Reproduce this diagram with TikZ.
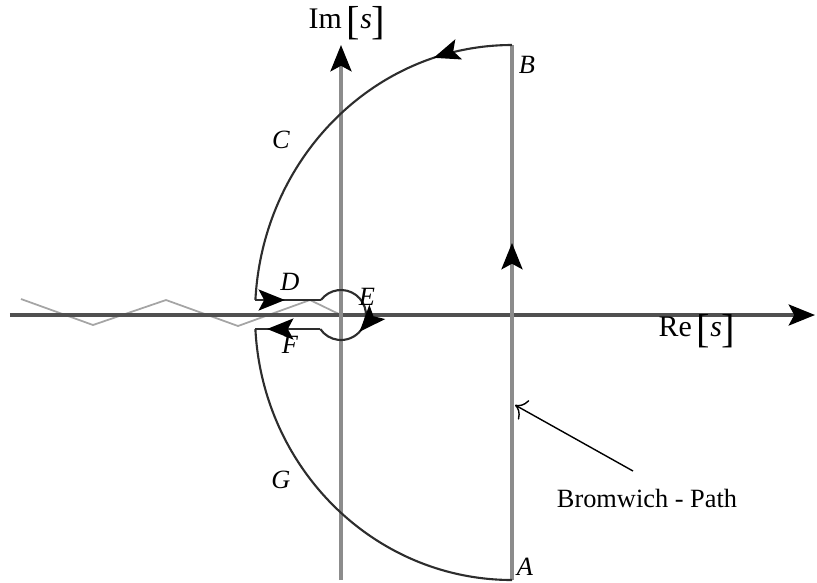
\documentclass[tikz,border=0pt]{standalone}
\usepackage{fontspec}
\setmainfont{Liberation Serif}
\usetikzlibrary{arrows.meta,decorations.markings}
\definecolor{axisgray}{RGB}{80,80,80}
\definecolor{pathgray}{RGB}{140,140,140}
\definecolor{cutgray}{RGB}{165,165,165}
\definecolor{arcgray}{RGB}{45,45,45}
\newcommand{\tallbr}[1]{\raisebox{-0.45ex}{\fontsize{11.5}{12}\selectfont #1}}

\begin{document}
\begin{tikzpicture}[line width=0.6pt,
        headtip/.tip={Stealth[length=7.5pt, width=6pt, inset=1.6pt, color=black]},
        midarrow/.style={postaction=decorate,
            decoration={markings, mark=at position #1 with {\arrow{headtip}}}},
        lbl/.style={font=\fontsize{7.5}{9}\selectfont\itshape, inner sep=1pt},
        axlbl/.style={font=\fontsize{8.5}{10}\selectfont, inner sep=0pt}]

    \useasboundingbox (-3.41,-2.67) rectangle (4.76,3.15);

    % --- punkty konturu ---
    \coordinate (O)  at (0,0);
    \coordinate (A)  at (1.71,-2.65);
    \coordinate (B)  at (1.71,2.70);
    \coordinate (d0) at (-0.856,0.15);
    \coordinate (d1) at (-0.20,0.15);
    \coordinate (f1) at (-0.207,-0.14);
    \coordinate (f0) at (-0.856,-0.14);

    % --- cięcie gałęzi ---
    \draw[cutgray, line width=0.5pt] (-3.20,0.16) -- (-2.48,-0.10) -- (-1.75,0.15)
        -- (-1.03,-0.11) -- (-0.31,0.15) -- (O);

    % --- osie ---
    \draw[axisgray, line width=0.9pt, -headtip] (-3.31,0) -- (4.74,0);
    \draw[pathgray, line width=0.9pt, -headtip] (0,-2.65) -- (0,2.70);
    \node[axlbl] (im) at (0.06,2.92) {Im\,\tallbr{[}\textit{s}\tallbr{]}};
    \node[axlbl] (re) at (3.56,-0.16) {Re\,\tallbr{[}\textit{s}\tallbr{]}};

    % --- ścieżka Bromwicha ---
    \draw[pathgray, line width=0.9pt, midarrow=0.63] (A) -- (B);

    % --- łuki duże ---
    \draw[arcgray, midarrow=0.2] (B) arc[start angle=90, end angle=176.8, x radius=2.57, y radius=2.70];
    \draw[arcgray] (f0) arc[start angle=183.03, end angle=270, x radius=2.57, y radius=2.65];

    % --- dziurka od klucza ---
    \draw[arcgray, midarrow=0.45] (d0) -- (d1);
    \draw[arcgray, midarrow=0.64] (d1) arc[start angle=143.13, end angle=-145.94, radius=0.25];
    \draw[arcgray, midarrow=0.82] (f1) -- (f0);

    % --- etykiety ---
    \node[lbl] (la) at (1.84,-2.52) {A};
    \node[lbl] (lb) at (1.86,2.50)  {B};
    \node[lbl] (lc) at (-0.60,1.75) {C};
    \node[lbl] (ld) at (-0.51,0.33) {D};
    \node[lbl] (le) at (0.26,0.18)  {E};
    \node[lbl] (lf) at (-0.51,-0.30) {F};
    \node[lbl] (lg) at (-0.60,-1.65) {G};

    % --- opis ---
    \node[font=\fontsize{7.5}{9}\selectfont, inner sep=1pt] (brom) at (3.06,-1.83) {Bromwich - Path};
    \coordinate (tail) at (2.92,-1.56);
    \coordinate (hit)  at (1.74,-0.90);
    \draw[line width=0.4pt, -{To[length=3pt]}] (tail) -- (hit);

\end{tikzpicture}
\end{document}
